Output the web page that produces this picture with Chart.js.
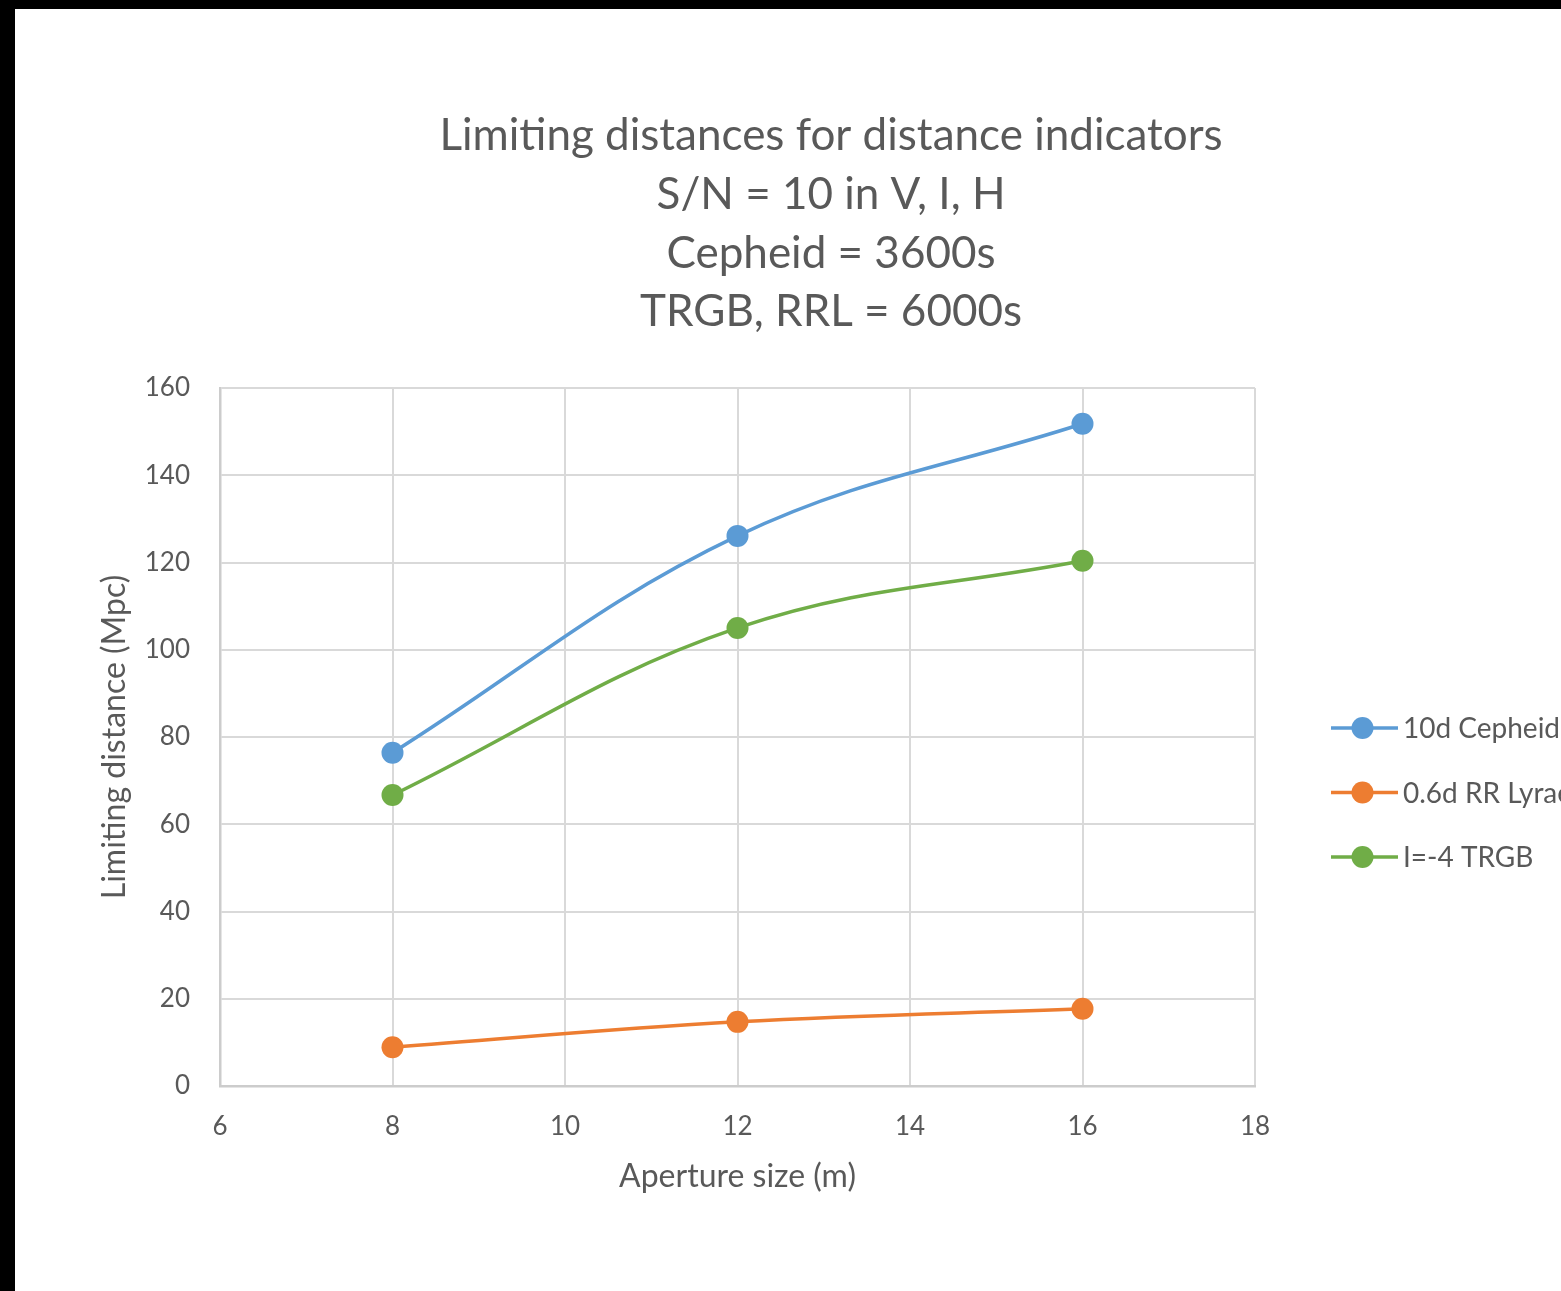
<!DOCTYPE html>
<html>
<head>
<meta charset="utf-8">
<script src="https://cdn.jsdelivr.net/npm/chart.js@4/dist/chart.umd.min.js"></script>
<style>
  html, body { margin: 0; padding: 0; background: #000; overflow: hidden; }
  #frame { position: absolute; left: 15px; top: 9px; width: 1546px; height: 1282px; background: #fff; overflow: hidden; }
  #chart { display: block; }
</style>
</head>
<body>
<div id="frame"><canvas id="chart" width="1546" height="1282"></canvas></div>
<script>
// Aperture sizes (m) and limiting distances (Mpc) for each indicator
const apertures = [8, 12, 16];
const cepheid10d = [76.4, 126.1, 151.8];
const rrLyrae06d = [8.9, 14.7, 17.7];
const trgbI4 = [66.7, 105.0, 120.4];

const seriesNames = ['10d Cepheid', '0.6d RR Lyrae', 'I=-4 TRGB'];
const seriesColors = ['#5B9BD5', '#ED7D31', '#70AD47'];

const titleLines = [
  'Limiting distances for distance indicators',
  'S/N = 10 in V, I, H',
  'Cepheid = 3600s',
  'TRGB, RRL = 6000s'
];
const xTitle = 'Aperture size (m)';
const yTitle = 'Limiting distance (Mpc)';

const FONT = 'Lato, "Open Sans", sans-serif';
const TEXT = '#595959';
const GRID = '#d9d9d9';

const toPoints = vals => apertures.map((x, i) => ({ x, y: vals[i] }));

// Multi-line chart title, centred over the whole chart block
const titleBlock = {
  id: 'titleBlock',
  afterDraw(chart, args, opts) {
    const ctx = chart.ctx;
    ctx.save();
    ctx.fillStyle = TEXT;
    ctx.font = `${opts.size}px ${FONT}`;
    ctx.textAlign = 'center';
    ctx.textBaseline = 'middle';
    opts.lines.forEach((t, i) => ctx.fillText(t, opts.x, opts.y + i * opts.step));
    ctx.restore();
  }
};

// Legend to the right of the plot: line + marker swatch, then label
const sideLegend = {
  id: 'sideLegend',
  afterDraw(chart, args, opts) {
    const ctx = chart.ctx;
    const area = chart.chartArea;
    ctx.save();
    ctx.font = `${opts.size}px ${FONT}`;
    ctx.textBaseline = 'middle';
    ctx.textAlign = 'left';
    chart.data.datasets.forEach((ds, i) => {
      const y = area.top + opts.top + i * opts.step;
      const x0 = area.right + opts.gap;
      ctx.strokeStyle = ds.borderColor;
      ctx.lineWidth = ds.borderWidth;
      ctx.beginPath();
      ctx.moveTo(x0, y);
      ctx.lineTo(x0 + opts.lineLen, y);
      ctx.stroke();
      ctx.fillStyle = ds.backgroundColor;
      ctx.beginPath();
      ctx.arc(x0 + opts.lineLen / 2 - 2, y, ds.pointRadius, 0, Math.PI * 2);
      ctx.fill();
      ctx.fillStyle = TEXT;
      ctx.fillText(ds.label, x0 + opts.lineLen + 5, y + 1);
    });
    ctx.restore();
  }
};

const makeSet = (label, vals, color) => ({
  label,
  data: toPoints(vals),
  borderColor: color,
  backgroundColor: color,
  pointBackgroundColor: color,
  pointBorderColor: color,
  borderWidth: 3.5,
  pointRadius: 11,
  pointHoverRadius: 11,
  pointBorderWidth: 0,
  tension: 0.38,
  fill: false
});

new Chart(document.getElementById('chart'), {
  type: 'line',
  data: {
    datasets: [
      makeSet(seriesNames[0], cepheid10d, seriesColors[0]),
      makeSet(seriesNames[1], rrLyrae06d, seriesColors[1]),
      makeSet(seriesNames[2], trgbI4, seriesColors[2])
    ]
  },
  options: {
    responsive: false,
    animation: false,
    events: [],
    layout: { padding: { top: 379, right: 306, bottom: 95, left: 0 } },
    plugins: {
      legend: { display: false },
      title: { display: false },
      tooltip: { enabled: false },
      titleBlock: { lines: titleLines, x: 816, y: 127, step: 58.7, size: 44 },
      sideLegend: { top: 340, step: 64.5, gap: 76, lineLen: 67, size: 28 }
    },
    scales: {
      x: {
        type: 'linear',
        min: 6, max: 18,
        afterFit: s => { s.height = 110; },
        ticks: { stepSize: 2, padding: 25, color: TEXT, font: { family: FONT, size: 26 } },
        grid: { color: GRID, lineWidth: 2, drawTicks: false },
        border: { color: '#cccccc', width: 2.5 },
        title: { display: true, text: xTitle, color: TEXT, font: { family: FONT, size: 32 }, padding: { top: 0, bottom: 0 } }
      },
      y: {
        min: 0, max: 160,
        afterFit: s => { s.width = 205; },
        ticks: { stepSize: 20, padding: 30, color: TEXT, font: { family: FONT, size: 26 } },
        grid: { color: GRID, lineWidth: 2, drawTicks: false },
        border: { color: '#cccccc', width: 2.5 },
        title: { display: true, text: yTitle, color: TEXT, font: { family: FONT, size: 32 }, padding: { top: 80, bottom: 0 } }
      }
    }
  },
  plugins: [titleBlock, sideLegend]
});
</script>
</body>
</html>
